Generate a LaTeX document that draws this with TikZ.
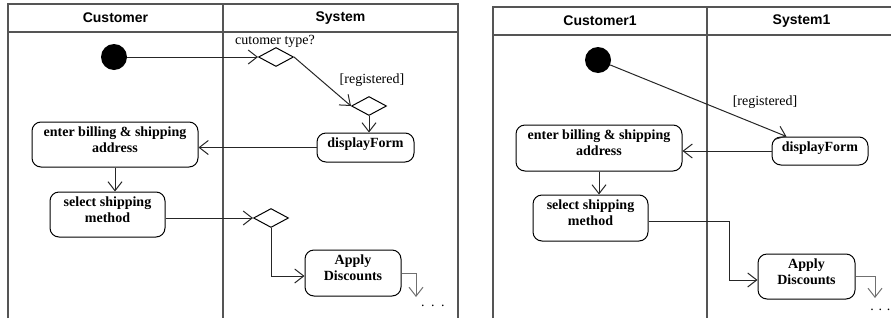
\documentclass[tikz,border=0pt]{standalone}
\usepackage{fontspec}
\setmainfont{Liberation Serif}
\setsansfont{Liberation Sans}
\usetikzlibrary{arrows.meta,shapes.geometric,calc}
\definecolor{framegray}{HTML}{555555}
\definecolor{exitgray}{HTML}{707070}

\tikzset{
  lane/.style={draw=framegray, line width=1.3pt},
  head/.style={font=\sffamily\bfseries\fontsize{14}{16}\selectfont, inner sep=0pt},
  act/.style={draw, rounded corners=9pt, line width=1pt,
    font=\bfseries\fontsize{14}{16}\selectfont, align=center,
    inner xsep=0pt, inner ysep=3.5pt, text height=11pt, text depth=#1},
  act/.default=11pt,
  % two-line actions: the text box reaches down to the second baseline
  act2/.style={act=#1, text height=27pt},
  act2/.default=11pt,
  dec/.style={diamond, draw, line width=1pt, inner sep=0pt,
    minimum width=35pt, minimum height=19pt},
  init/.style={circle, fill=black, minimum size=26pt, inner sep=0pt},
  lbl/.style={font=\fontsize{14}{16}\selectfont, inner sep=0pt},
  flow/.style={draw=black!85, line width=1pt, -{Straight Barb[length=9pt,width=14pt]}},
  exit/.style={draw=exitgray, line width=1pt, -{Straight Barb[length=9pt,width=14pt]}},
}

\begin{document}
\begin{tikzpicture}[x=1pt, y=-1pt]
\useasboundingbox (0,0) rectangle (891,322);

% ---- first activity diagram: swimlanes ----
\draw[lane] (8,318) -- (8,4) -- (458,4) -- (458,318);
\draw[lane] (8,32) -- (458,32);
\draw[lane] (223,4) -- (223,318);
\node[head] (h1) at (115.5,18) {Customer};
\node[head] (h2) at (340.5,18) {System};

% ---- first activity diagram: nodes ----
\node[init] (s1) at (114,57) {};
\node[dec] (d1) at (276,57) {};
\node[lbl] (l1) at (275,41) {cutomer type?};
\node[dec] (d2) at (369,106) {};
\node[lbl] (l2) at (372,80) {[registered]};
\node[act, minimum width=97pt] (f1) at (365.5,147.5) {displayForm};
\node[act2, minimum width=166pt] (b1) at (115,144.5) {enter billing \& shipping\\address};
\node[act2, minimum width=115pt] (c1) at (107.5,214.5) {select shipping\\method};
\node[dec] (d3) at (271,218) {};
\node[act2=12pt, minimum width=96pt] (a1) at (353,273) {Apply\\Discounts};
\coordinate (e1) at (416,297);
\node[lbl, anchor=west] (dots1) at (421,306) {.\hspace{6.5pt}.\hspace{6.5pt}.};

% ---- first activity diagram: flows ----
\draw[flow] (s1) -- (d1.west);
\draw[flow] (d1.east) -- (d2.west);
\draw[flow] (d2.south) -- (d2.south |- f1.north);
\draw[flow] (f1.west) -- (f1.west -| b1.east);
\draw[flow] (b1.south) -- (b1.south |- c1.north);
\draw[flow] (c1.east |- d3.west) -- (d3.west);
\draw[flow] (d3.south) |- ($(a1.west)+(0,3)$);
\draw[exit] (a1.east) -| (e1);

% ---- second activity diagram: swimlanes ----
\draw[lane] (493,318) -- (493,7) -- (891,7);
\draw[lane] (493,35) -- (891,35);
\draw[lane] (707,7) -- (707,318);
\node[head] (h3) at (600,21) {Customer1};
\node[head] (h4) at (801.5,21) {System1};

% ---- second activity diagram: nodes ----
\node[init] (s2) at (598,60) {};
\node[lbl] (l3) at (765,102) {[registered]};
\node[act=10pt, minimum width=96pt] (f2) at (820,151) {displayForm};
\node[act2=12pt, minimum width=166pt] (b2) at (599,148) {enter billing \& shipping\\address};
\node[act2=12pt, minimum width=115pt] (c2) at (590.5,218) {select shipping\\method};
\node[act2, minimum width=97pt] (a2) at (806.5,276.5) {Apply\\Discounts};
\coordinate (k2) at (729,221);
\coordinate (e2) at (875,298);
\node[lbl, anchor=east] (dots2) at (890.5,310) {. . .};

% ---- second activity diagram: flows ----
\draw[flow] (s2) -- ($(f2.north west)+(15,0)$);
\draw[flow] (f2.west) -- (f2.west -| b2.east);
\draw[flow] (b2.south) -- (b2.south |- c2.north);
\draw[flow] (c2.east |- k2) -- (k2) |- ($(a2.west)+(0,3.5)$);
\draw[exit] (a2.east) -| (e2);
\end{tikzpicture}
\end{document}
